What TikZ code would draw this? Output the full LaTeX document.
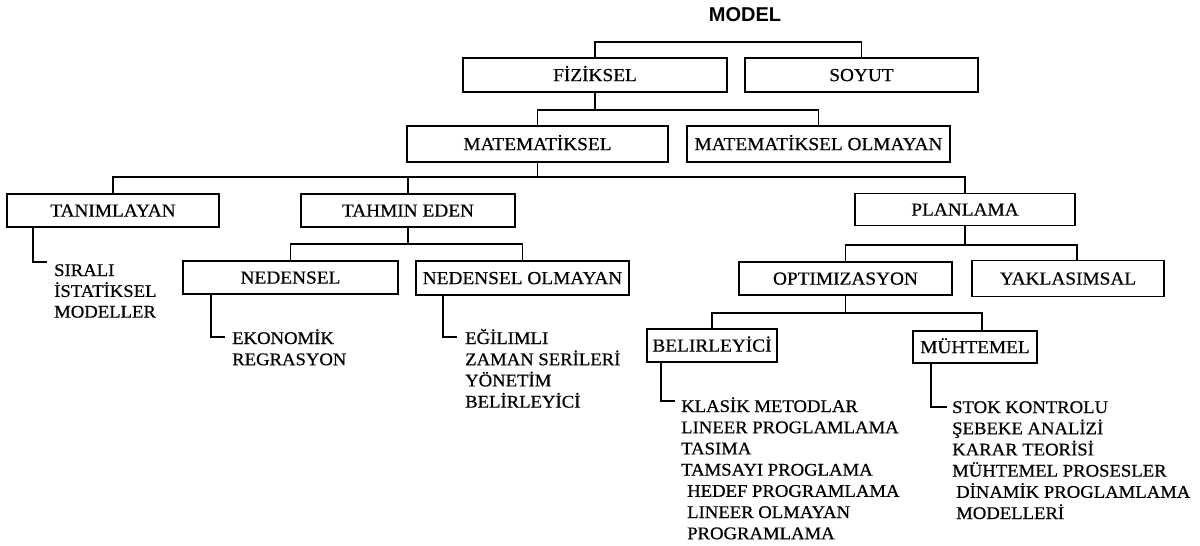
\documentclass[tikz,border=0pt]{standalone}
\usepackage{fontspec}
\setmainfont{Liberation Serif}[FakeStretch=1.05, FakeBold=0.6]
\newfontfamily\titlefont{Liberation Sans}
\begin{document}
\begin{tikzpicture}[x=1pt,y=-1pt]
\tikzset{
  box/.style={draw, line width=1.9pt, inner sep=0pt, text height=12.2pt, text depth=0pt,
              minimum height=34pt, font=\fontsize{18.4}{21}\selectfont},
  wire/.style={line width=1.9pt},
  leaf/.style={anchor=base west, inner sep=0pt, font=\fontsize{17.8}{21.2}\selectfont}
}
\useasboundingbox (0,0) rectangle (1200,546);

% title
\node[font=\titlefont\bfseries\fontsize{20}{24}\selectfont] (model) at (745,15) {MODEL};

% boxes
\node[box, minimum width=264pt] (fiz) at (595,75) {FİZİKSEL};
\node[box, minimum width=233pt] (soy) at (861.5,75) {SOYUT};
\node[box, minimum width=261pt, minimum height=36pt] (mat) at (537.5,144) {MATEMATİKSEL};
\node[box, minimum width=263pt, minimum height=36pt] (matol) at (818.5,144) {MATEMATİKSEL OLMAYAN};
\node[box, minimum width=212pt, minimum height=33pt] (tan) at (113,210.5) {TANIMLAYAN};
\node[box, minimum width=214pt, minimum height=33pt] (tah) at (408,210.5) {TAHMIN EDEN};
\node[box, minimum width=220pt, minimum height=32pt] (plan) at (965,209.5) {PLANLAMA};
\node[box, minimum width=215pt, minimum height=33pt] (ned) at (290.5,277.5) {NEDENSEL};
\node[box, minimum width=213pt] (nedol) at (522.5,278) {NEDENSEL OLMAYAN};
\node[box, minimum width=213pt, minimum height=33pt] (opt) at (845.5,278.5) {OPTIMIZASYON};
\node[box, minimum width=192pt, minimum height=36pt] (yak) at (1068,278.5) {YAKLASIMSAL};
\node[box, minimum width=130pt, minimum height=33pt] (bel) at (712,345.5) {BELIRLEYİCİ};
\node[box, minimum width=124pt, minimum height=32pt] (muh) at (975,347) {MÜHTEMEL};

% bus levels
\coordinate (b1) at (0,42);
\coordinate (b2) at (0,110);
\coordinate (b3) at (0,177);
\coordinate (b4) at (0,244);
\coordinate (b5) at (0,245);
\coordinate (b6) at (0,313);

\draw[wire] (fiz.north) -- (fiz.north |- b1) -| (soy.north);

\draw[wire] (fiz.south) -- (fiz.south |- b2);
\draw[wire] (mat.north) -- (mat.north |- b2) -- (matol.north |- b2) -- (matol.north);

\draw[wire] (mat.south) -- (mat.south |- b3);
\draw[wire] (tan.north) -- (tan.north |- b3) -- (plan.north |- b3) -- (plan.north);
\draw[wire] (tah.north) -- (tah.north |- b3);

\draw[wire] (tah.south) -- (tah.south |- b4);
\draw[wire] (ned.north) -- (ned.north |- b4) -- (nedol.north |- b4) -- (nedol.north);

\coordinate (yakin) at ([xshift=9pt]yak.north);
\draw[wire] (plan.south) -- (plan.south |- b5);
\draw[wire] (opt.north) -- (opt.north |- b5) -- (yakin |- b5) -- (yakin);

\coordinate (muhin) at ([xshift=7pt]muh.north);
\draw[wire] (opt.south) -- (opt.south |- b6);
\draw[wire] (bel.north) -- (bel.north |- b6) -- (muhin |- b6) -- (muhin);

% leaf lists
\node[leaf, font=\fontsize{17.8}{20.7}\selectfont] (tanl) at (54,276)
  {\begin{tabular}[t]{@{}l@{}}SIRALI\\İSTATİKSEL\\MODELLER\end{tabular}};
\node[leaf] (nedl) at (232,344)
  {\begin{tabular}[t]{@{}l@{}}EKONOMİK\\REGRASYON\end{tabular}};
\node[leaf] (nedoll) at (465,344)
  {\begin{tabular}[t]{@{}l@{}}EĞİLIMLI\\ZAMAN SERİLERİ\\YÖNETİM\\BELİRLEYİCİ\end{tabular}};
\node[leaf] (bell) at (681,412)
  {\begin{tabular}[t]{@{}l@{}}KLASİK METODLAR\\LINEER PROGLAMLAMA\\TASIMA\\TAMSAYI PROGLAMA\\
   \hspace*{6pt}HEDEF PROGRAMLAMA\\\hspace*{6pt}LINEER OLMAYAN\\\hspace*{6pt}PROGRAMLAMA\end{tabular}};
\node[leaf] (muhl) at (952,413)
  {\begin{tabular}[t]{@{}l@{}}STOK KONTROLU\\ŞEBEKE ANALİZİ\\KARAR TEORİSİ\\MÜHTEMEL PROSESLER\\
   \hspace*{4pt}DİNAMİK PROGLAMLAMA\\\hspace*{4pt}MODELLERİ\end{tabular}};

% leaf connectors
\coordinate (tanc) at (33,262);   \coordinate (tane) at (47,262);
\coordinate (nedc) at (211,337);  \coordinate (nede) at (225,337);
\coordinate (nedolc) at (443,337); \coordinate (nedole) at (457,337);
\coordinate (belc) at (661,401);  \coordinate (bele) at (675,401);
\coordinate (muhc) at (931,407);  \coordinate (muhe) at (947,407);

\draw[wire] (tan.south -| tanc) -- (tanc) -- (tane);
\draw[wire] (ned.south -| nedc) -- (nedc) -- (nede);
\draw[wire] (nedol.south -| nedolc) -- (nedolc) -- (nedole);
\draw[wire] (bel.south -| belc) -- (belc) -- (bele);
\draw[wire] (muh.south -| muhc) -- (muhc) -- (muhe);
\end{tikzpicture}
\end{document}
